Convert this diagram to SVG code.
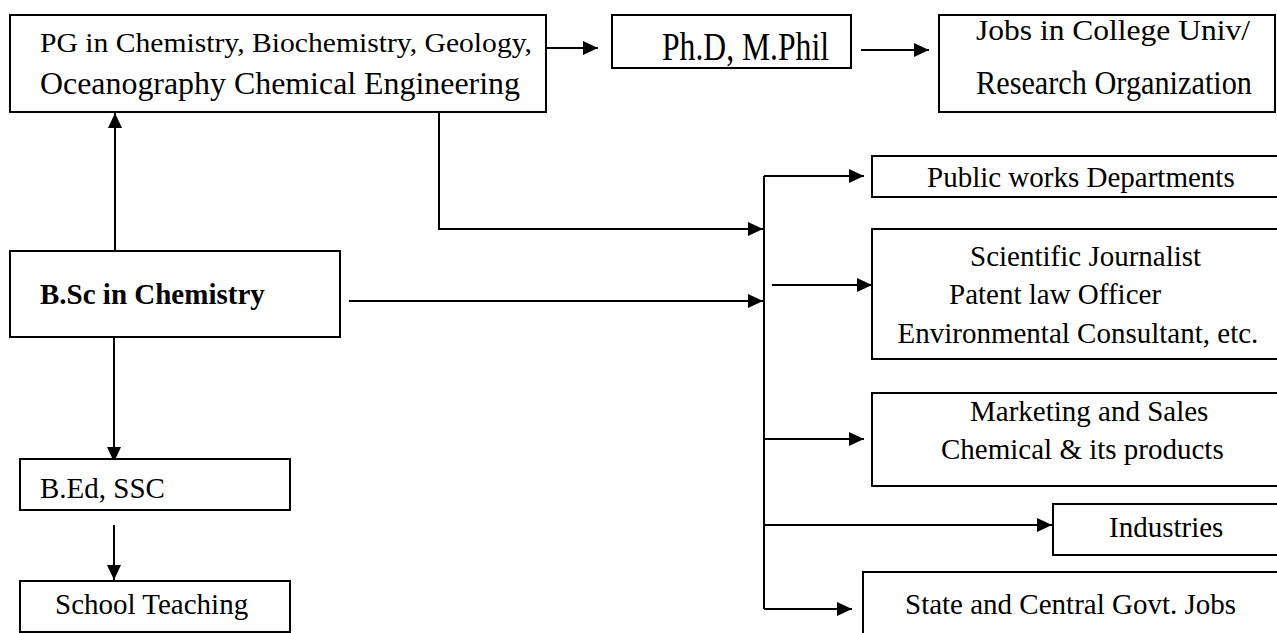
<svg xmlns="http://www.w3.org/2000/svg" width="1277" height="633" viewBox="0 0 1277 633">
<defs>
<style>
.box{fill:#fff;stroke:#000;stroke-width:2}
.t{font-family:"Liberation Serif","Times New Roman",serif;fill:#000}
.n{font-size:29px}
.b{font-weight:bold}
.c{fill:none;stroke:#000;stroke-width:2}
</style>
<marker id="ah" markerUnits="userSpaceOnUse" markerWidth="16" markerHeight="15" refX="15" refY="7" orient="auto">
<path d="M0,0 L15,7 L0,14 z" fill="#000"/>
</marker>
</defs>
<rect width="1277" height="633" fill="#fff"/>

<g id="connectors">
<path class="c" d="M115,251 V113" marker-end="url(#ah)"/>
<path class="c" d="M114,337 V462" marker-end="url(#ah)"/>
<path class="c" d="M114,525 V580" marker-end="url(#ah)"/>
<path class="c" d="M547,48 H598" marker-end="url(#ah)"/>
<path class="c" d="M861,50 H929" marker-end="url(#ah)"/>
<path class="c" d="M439,106 V229 H763" marker-end="url(#ah)"/>
<path class="c" d="M349,301 H763" marker-end="url(#ah)"/>
<path class="c" d="M764,176 V609"/>
<path class="c" d="M764,176 H864" marker-end="url(#ah)"/>
<path class="c" d="M772,285 H872" marker-end="url(#ah)"/>
<path class="c" d="M764,439 H864" marker-end="url(#ah)"/>
<path class="c" d="M764,525 H1052" marker-end="url(#ah)"/>
<path class="c" d="M764,609 H852" marker-end="url(#ah)"/>
</g>

<g id="pg">
<rect class="box" x="10" y="15" width="536" height="97"/>
<text class="t" x="40" y="52" style="font-size:28px" textLength="492" lengthAdjust="spacingAndGlyphs">PG in Chemistry, Biochemistry, Geology,</text>
<text class="t" x="40" y="94" style="font-size:30.5px" textLength="480" lengthAdjust="spacingAndGlyphs">Oceanography Chemical Engineering</text>
</g>

<g id="phd">
<rect class="box" x="612" y="15" width="239" height="53"/>
<text class="t" x="662" y="60" style="font-size:40px" textLength="167" lengthAdjust="spacingAndGlyphs">Ph.D, M.Phil</text>
</g>

<g id="jobs">
<rect class="box" x="939" y="15" width="336" height="97"/>
<text class="t" x="976" y="40" style="font-size:30px" textLength="274" lengthAdjust="spacingAndGlyphs">Jobs in College Univ/</text>
<text class="t" x="976" y="94" style="font-size:33px" textLength="276" lengthAdjust="spacingAndGlyphs">Research Organization</text>
</g>

<g id="bsc">
<rect class="box" x="10" y="251" width="330" height="86"/>
<text class="t n b" x="40" y="303.5">B.Sc in Chemistry</text>
</g>

<g id="bed">
<rect class="box" x="20" y="459" width="270" height="51"/>
<text class="t n" x="40" y="498">B.Ed, SSC</text>
</g>

<g id="school">
<rect class="box" x="20" y="581" width="270" height="51"/>
<text class="t n" x="55" y="613.5">School Teaching</text>
</g>

<g id="public">
<rect class="box" x="872" y="156" width="420" height="41"/>
<text class="t n" x="927" y="187">Public works Departments</text>
</g>

<g id="scientific">
<rect class="box" x="872" y="229" width="420" height="130"/>
<text class="t n" x="970" y="266">Scientific Journalist</text>
<text class="t n" x="949" y="303.5">Patent law Officer</text>
<text class="t n" x="897.5" y="342.5">Environmental Consultant, etc.</text>
</g>

<g id="marketing">
<rect class="box" x="872" y="393" width="420" height="93"/>
<text class="t n" x="970" y="421">Marketing and Sales</text>
<text class="t n" x="941" y="459">Chemical &amp; its products</text>
</g>

<g id="industries">
<rect class="box" x="1053" y="504" width="240" height="51"/>
<text class="t n" x="1109" y="537">Industries</text>
</g>

<g id="state">
<rect class="box" x="863" y="572" width="430" height="80"/>
<text class="t n" x="905" y="614">State and Central Govt. Jobs</text>
</g>
</svg>
